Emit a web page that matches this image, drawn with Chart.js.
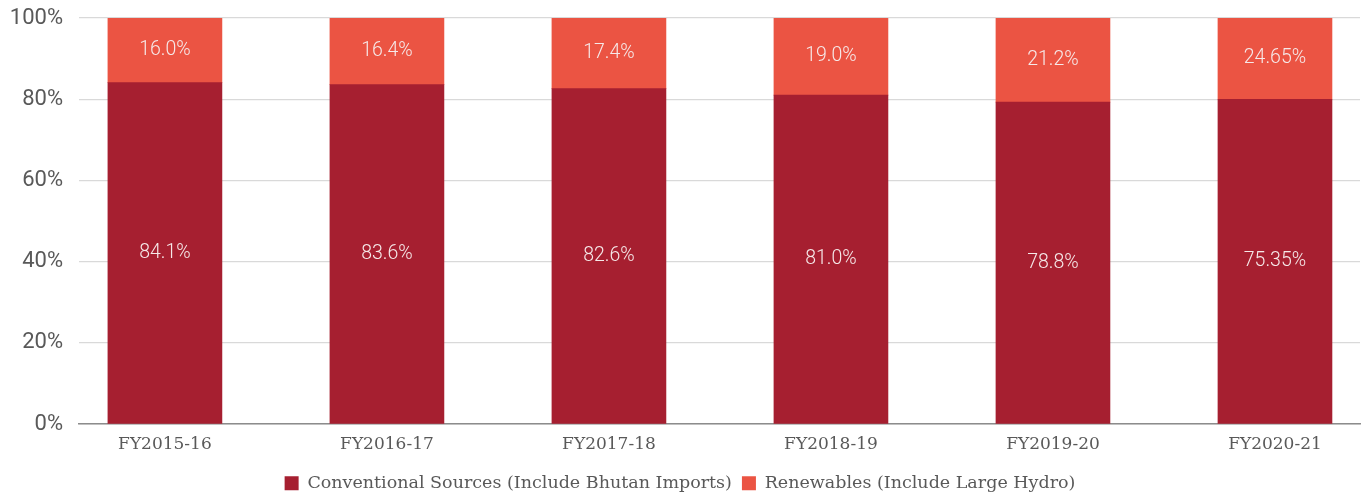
<!DOCTYPE html>
<html>
<head>
<meta charset="utf-8">
<script src="https://cdn.jsdelivr.net/npm/chart.js@4/dist/chart.umd.min.js"></script>
<style>
  html, body { margin: 0; padding: 0; background: #fff; }
  #wrap { width: 1366px; height: 495px; position: relative; }
</style>
</head>
<body>
<div id="wrap"><canvas id="chart"></canvas></div>
<script>
const categories = ['FY2015-16', 'FY2016-17', 'FY2017-18', 'FY2018-19', 'FY2019-20', 'FY2020-21'];
// segment heights as drawn in the picture (percent of bar)
const conventional = [84.1, 83.6, 82.6, 81.0, 79.3, 80.0];
const renewables = [15.9, 16.4, 17.4, 19.0, 20.7, 20.0];
// printed labels
const conventionalText = ['84.1%', '83.6%', '82.6%', '81.0%', '78.8%', '75.35%'];
const renewablesText = ['16.0%', '16.4%', '17.4%', '19.0%', '21.2%', '24.65%'];
const yTicks = [0, 20, 40, 60, 80, 100];

const DARK = '#A61F30';
const LIGHT = '#EB5443';
const SERIF = '"DejaVu Serif", "Liberation Serif", serif';
const SANS = 'Roboto, "Open Sans", sans-serif';

const labelPlugin = {
  id: 'segLabels',
  afterDatasetsDraw(chart) {
    const { ctx } = chart;
    const texts = [conventionalText, renewablesText];
    ctx.save();
    ctx.font = '300 19.5px ' + SANS;
    ctx.fillStyle = '#F6E9E9';
    ctx.textAlign = 'center';
    ctx.textBaseline = 'middle';
    chart.data.datasets.forEach((ds, d) => {
      chart.getDatasetMeta(d).data.forEach((bar, i) => {
        const mid = (bar.y + bar.base) / 2;
        ctx.fillText(texts[d][i], bar.x, mid);
      });
    });
    ctx.restore();
  }
};

new Chart(document.getElementById('chart'), {
  type: 'bar',
  plugins: [labelPlugin],
  data: {
    datasets: [
      {
        label: 'Conventional Sources (Include Bhutan Imports)',
        data: conventional.map((v, i) => ({ x: i, y: v })),
        backgroundColor: DARK,
        barThickness: 114,
      },
      {
        label: 'Renewables (Include Large Hydro)',
        data: renewables.map((v, i) => ({ x: i, y: v })),
        backgroundColor: LIGHT,
        barThickness: 114,
      }
    ]
  },
  options: {
    responsive: true,
    maintainAspectRatio: false,
    animation: false,
    layout: { padding: { top: 18, right: 6, left: 0, bottom: -7 } },
    scales: {
      x: {
        type: 'linear',
        stacked: true,
        offset: false,
        min: -0.387,
        max: 5.383,
        z: 1,
        afterBuildTicks(scale) {
          scale.ticks = categories.map((c, i) => ({ value: i }));
        },
        ticks: {
          callback: (v) => categories[v],
          color: '#595959',
          font: { family: SERIF, size: 17 },
          padding: 10,
          maxRotation: 0,
          autoSkip: false,
        },
        grid: { display: false, drawTicks: false },
        border: { display: true, color: '#8C8C8C', width: 1.5 },
      },
      y: {
        stacked: true,
        min: 0,
        max: 100,
        afterBuildTicks(scale) {
          scale.ticks = yTicks.map(v => ({ value: v }));
        },
        afterFit(scale) {
          scale.width = 79;
          scale.paddingTop = 0;
        },
        ticks: {
          callback: (v) => v + '%',
          color: '#595959',
          font: { family: SANS, size: 22 },
          padding: 16,
        },
        grid: { color: '#D9D9D9', lineWidth: 1.3, drawTicks: false },
        border: { display: false },
      }
    },
    plugins: {
      legend: {
        position: 'bottom',
        labels: {
          boxWidth: 14,
          boxHeight: 14,
          padding: 10,
          color: '#595959',
          font: { family: SERIF, size: 17.5 },
        }
      },
      tooltip: { enabled: false },
    }
  }
});
</script>
</body>
</html>
